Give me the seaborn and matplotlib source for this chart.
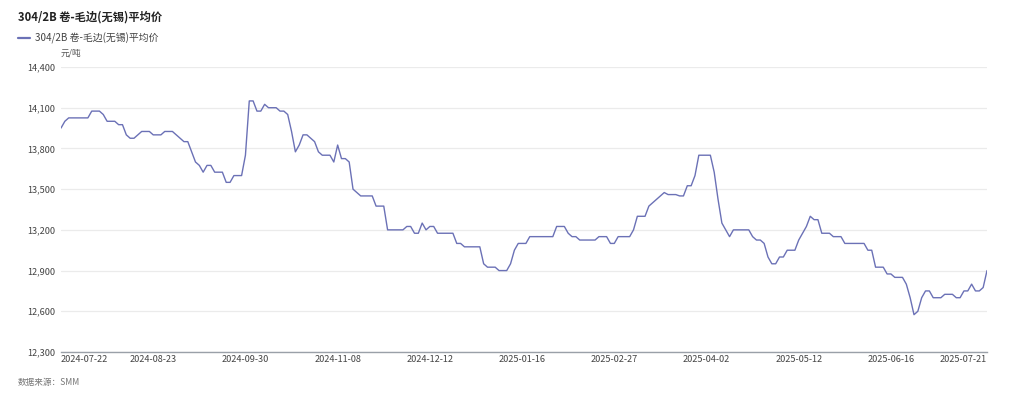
import numpy as np
import pandas as pd
import matplotlib
matplotlib.use("Agg")
import matplotlib.pyplot as plt
from matplotlib.lines import Line2D
import seaborn as sns
from matplotlib.ticker import FuncFormatter

# ---------------- data ----------------
series_name = "304/2B 卷-毛边(无锡)平均价"
title_text = "304/2B 卷-毛边(无锡)平均价"
unit_text = "元/吨"
source_text = "数据来源：SMM"

start_date = "2024-07-22"
end_date = "2025-07-21"
holidays = [
    "2024-09-16", "2024-09-17",
    "2024-10-01", "2024-10-02", "2024-10-03", "2024-10-04", "2024-10-07",
    "2025-01-01",
    "2025-01-28", "2025-01-29", "2025-01-30", "2025-01-31", "2025-02-03", "2025-02-04",
    "2025-04-04",
    "2025-05-01", "2025-05-02", "2025-05-05",
    "2025-06-02",
]

prices = [
    13950, 14000, 14025, 14025, 14025, 14025, 14025, 14025, 14075, 14075,
    14075, 14050, 14000, 14000, 14000, 13975, 13975, 13900, 13875, 13875,
    13900, 13925, 13925, 13925, 13900, 13900, 13900, 13925, 13925, 13925,
    13900, 13875, 13850, 13850, 13775, 13700, 13675, 13625, 13675, 13675,
    13625, 13625, 13625, 13550, 13550, 13600, 13600, 13600, 13750, 14150,
    14150, 14075, 14075, 14125, 14100, 14100, 14100, 14075, 14075, 14050,
    13925, 13775, 13825, 13900, 13900, 13875, 13850, 13775, 13750, 13750,
    13750, 13700, 13825, 13725, 13725, 13700, 13500, 13475, 13450, 13450,
    13450, 13450, 13375, 13375, 13375, 13200, 13200, 13200, 13200, 13200,
    13225, 13225, 13175, 13175, 13250, 13200, 13225, 13225, 13175, 13175,
    13175, 13175, 13175, 13100, 13100, 13075, 13075, 13075, 13075, 13075,
    12950, 12925, 12925, 12925, 12900, 12900, 12900, 12950, 13050, 13100,
    13100, 13100, 13150, 13150, 13150, 13150, 13150, 13150, 13150, 13225,
    13225, 13225, 13175, 13150, 13150, 13125, 13125, 13125, 13125, 13125,
    13150, 13150, 13150, 13100, 13100, 13150, 13150, 13150, 13150, 13200,
    13300, 13300, 13300, 13375, 13400, 13425, 13450, 13475, 13460, 13460,
    13460, 13450, 13450, 13525, 13525, 13600, 13750, 13750, 13750, 13750,
    13625, 13425, 13250, 13200, 13150, 13200, 13200, 13200, 13200, 13200,
    13150, 13125, 13125, 13100, 13000, 12950, 12950, 13000, 13000, 13050,
    13050, 13050, 13125, 13175, 13225, 13300, 13275, 13275, 13175, 13175,
    13175, 13150, 13150, 13150, 13100, 13100, 13100, 13100, 13100, 13100,
    13050, 13050, 12925, 12925, 12925, 12875, 12875, 12850, 12850, 12850,
    12800, 12700, 12575, 12600, 12700, 12750, 12750, 12700, 12700, 12700,
    12725, 12725, 12725, 12700, 12700, 12750, 12750, 12800, 12750, 12750,
    12775, 12900,
]

y_ticks = [12300, 12600, 12900, 13200, 13500, 13800, 14100, 14400]
x_label_dates = ["2024-07-22", "2024-08-23", "2024-09-30", "2024-11-08", "2024-12-12",
                 "2025-01-16", "2025-02-27", "2025-04-02", "2025-05-12", "2025-06-16",
                 "2025-07-21"]

# ---------------- build ----------------
dates = pd.bdate_range(start_date, end_date, freq="C", holidays=holidays)
date_str = [d.strftime("%Y-%m-%d") for d in dates]
n = min(len(date_str), len(prices))
df = pd.DataFrame({"idx": np.arange(n), "date": date_str[:n], "price": prices[:n]})

sns.set_theme(style="white")
plt.rcParams["font.family"] = ["Noto Sans CJK SC", "DejaVu Sans"]
plt.rcParams["axes.unicode_minus"] = False

fig = plt.figure(figsize=(10.24, 3.99), dpi=100)
ax = fig.add_axes([61 / 1024, 1 - 352 / 399, (987 - 61) / 1024, (352 - 67) / 399])

line_color = "#6B71B6"
sns.lineplot(data=df, x="idx", y="price", ax=ax, color=line_color, linewidth=1.0,
             legend=False)

ax.set_xlim(0, n - 1)
ax.set_ylim(y_ticks[0], y_ticks[-1])
ax.set_yticks(y_ticks)
ax.yaxis.set_major_formatter(FuncFormatter(lambda v, p: f"{int(v):,}"))
ax.grid(axis="y", color="#EBEBEB", linewidth=0.9)
ax.grid(axis="x", visible=False)

tick_pos = [date_str.index(d) for d in x_label_dates if d in date_str]
ax.set_xticks(tick_pos)
ax.set_xticklabels([date_str[i] for i in tick_pos])
labels = ax.get_xticklabels()
labels[0].set_horizontalalignment("left")
labels[-1].set_horizontalalignment("right")

for s in ["top", "right", "left"]:
    ax.spines[s].set_visible(False)
ax.spines["bottom"].set_color("#9AA0A8")
ax.spines["bottom"].set_linewidth(1.0)
ax.tick_params(axis="x", length=0, pad=2.5, labelsize=6.6, labelcolor="#444444")
ax.tick_params(axis="y", length=0, pad=4.5, labelsize=6.6, labelcolor="#444444")
ax.set_xlabel("")
ax.set_ylabel("")

fig.text(18 / 1024, 1 - 17 / 399, title_text, fontsize=8.1, fontweight="bold",
         color="#222222", va="center", ha="left")
fig.text(61 / 1024, 1 - 53 / 399, unit_text, fontsize=6.2, color="#555555",
         va="center", ha="left")
fig.text(18 / 1024, 1 - 382 / 399, source_text, fontsize=6.2, color="#777777",
         va="center", ha="left", style="italic")

proxy = Line2D([], [], color=line_color, linewidth=1.6)
leg = fig.legend([proxy], [series_name], loc="center left",
                 bbox_to_anchor=(18 / 1024, 1 - 38 / 399),
                 frameon=False, fontsize=7.1, handlelength=1.2, handletextpad=0.55,
                 borderaxespad=0, borderpad=0)
for t in leg.get_texts():
    t.set_color("#444444")

fig.savefig("out.png", dpi=100)
